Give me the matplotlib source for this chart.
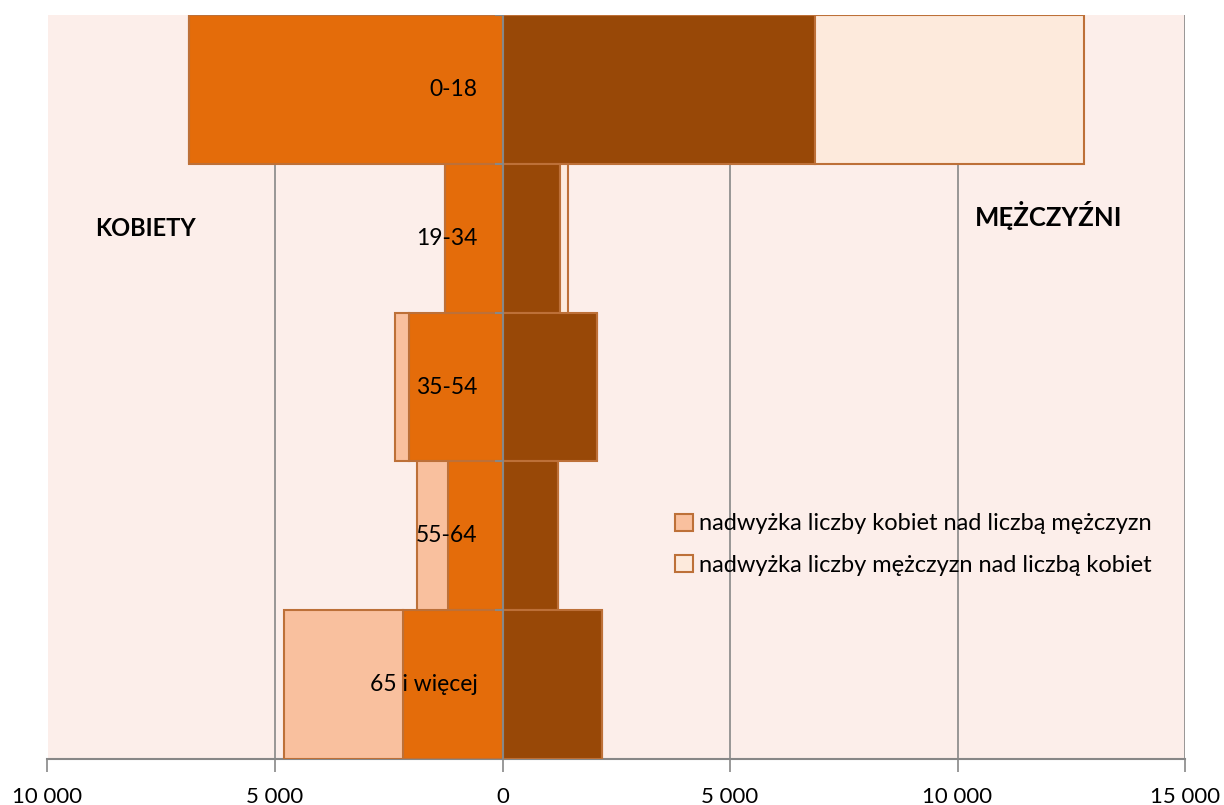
import matplotlib.pyplot as plt
import numpy as np

# age groups, top to bottom
groups = ["0-18", "19-34", "35-54", "55-64", "65 i więcej"]
women = [6880, 1270, 2060, 1205, 2190]
excess_women = [0, 0, 305, 675, 2620]
men = [6870, 1270, 2080, 1210, 2195]
excess_men = [5900, 170, 0, 0, 0]

ticks = [-10000, -5000, 0, 5000, 10000, 15000]
tick_labels = ["10 000", "5 000", "0", "5 000", "10 000", "15 000"]

C_WOMEN = "#E46C0A"
C_MEN = "#984807"
C_EXW = "#F9C09E"
C_EXM = "#FDEADC"
C_EDGE = "#BD7038"
C_GRID = "#878787"
C_BG = "#FCEEEA"

plt.rcParams['font.family'] = ['Lato', 'DejaVu Sans']

fig = plt.figure(figsize=(12.24, 8.05), dpi=100)
ax = fig.add_axes([47.5 / 1224, 46 / 805, 1137.5 / 1224, 744 / 805])
ax.set_facecolor(C_BG)

y = np.arange(len(groups))
women = np.array(women)
men = np.array(men)
excess_women = np.array(excess_women)
excess_men = np.array(excess_men)

kw = dict(height=1.0, edgecolor=C_EDGE, linewidth=1.5, zorder=3)
ax.barh(y, -women, color=C_WOMEN, **kw)
ax.barh(y, -excess_women, left=-women, color=C_EXW,
        label="nadwyżka liczby kobiet nad liczbą mężczyzn", **kw)
ax.barh(y, men, color=C_MEN, **kw)
ax.barh(y, excess_men, left=men, color=C_EXM,
        label="nadwyżka liczby mężczyzn nad liczbą kobiet", **kw)

ax.set_xlim(-10000, 15000)
ax.set_ylim(len(groups) - 0.5, -0.5)
ax.set_xticks(ticks)
ax.set_xticklabels(tick_labels, fontsize=16)
ax.set_yticks([])
ax.grid(axis='x', color=C_GRID, linewidth=1.2, zorder=0)
ax.set_axisbelow(True)

for s in ["top", "right", "left"]:
    ax.spines[s].set_visible(False)
ax.spines["bottom"].set_color(C_GRID)
ax.spines["bottom"].set_linewidth(1.5)
ax.tick_params(axis='x', direction='out', length=9, color=C_GRID, width=1.2, pad=11)

# vertical category axis at zero with little ticks on band boundaries
ax.axvline(0, color=C_GRID, linewidth=1.5, zorder=5)
bounds = np.arange(len(groups) + 1) - 0.5
ax.hlines(bounds[:-1], -170, 0, color=C_GRID, linewidth=1.5, zorder=5)

for yi, g in zip(y, groups):
    ax.annotate(g, (0, yi), xytext=(-25, 0), textcoords='offset pixels',
                ha='right', va='center', fontsize=16.5, zorder=6)

fig.text(95 / 1224, 1 - 228 / 805, "KOBIETY", fontsize=17, fontweight='bold',
         ha='left', va='center')
fig.text(975 / 1224, 1 - 216 / 805, "MĘŻCZYŹNI", fontsize=18.5, fontweight='bold',
         ha='left', va='center')

ax.legend(loc='upper left', bbox_to_anchor=(666 / 1224, 1 - 504 / 805),
          bbox_transform=fig.transFigure, frameon=False, fontsize=17,
          handlelength=0.75, handleheight=0.75, handletextpad=0.25,
          labelspacing=0.85, borderaxespad=0)

fig.savefig("out.png", dpi=100)
